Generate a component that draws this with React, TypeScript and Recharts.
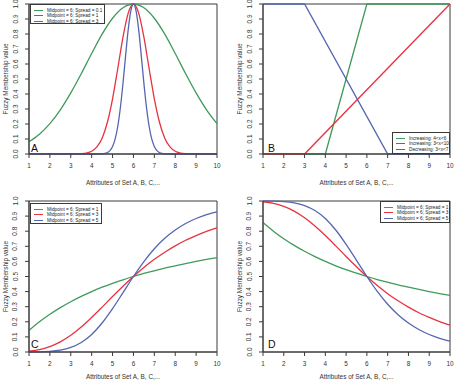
import React from 'react'
import { LineChart, Line, XAxis, YAxis, ReferenceArea, Legend } from 'recharts'

const FONT = '"Liberation Sans", Arial, sans-serif'
const AXIS = '#3a3a3a'
const GREEN = '#3f9a5c'
const RED = '#e6333f'
const BLUE = '#5566b0'

const xTicks = [1, 2, 3, 4, 5, 6, 7, 8, 9, 10]
const yTicks = [0, 0.1, 0.2, 0.3, 0.4, 0.5, 0.6, 0.7, 0.8, 0.9, 1]

// A: bell shaped curves centred on 6
const aGreenX = [1, 1.5, 2, 2.5, 3, 3.5, 4, 4.5, 5, 5.5, 6, 6.5, 7, 7.5, 8, 8.5, 9, 9.5, 10]
const aGreenY = [0.082, 0.132, 0.202, 0.294, 0.407, 0.535, 0.67, 0.799, 0.905, 0.975, 1, 0.975, 0.905, 0.799, 0.67, 0.535, 0.407, 0.294, 0.202]
const aRedX = [1, 2, 3, 3.25, 3.5, 3.75, 4, 4.25, 4.5, 4.75, 5, 5.25, 5.5, 5.75, 6, 6.25, 6.5, 6.75, 7, 7.25, 7.5, 7.75, 8, 8.25, 8.5, 8.75, 9, 10]
const aRedY = [0, 0, 0.0001, 0.0005, 0.0019, 0.0063, 0.018, 0.047, 0.105, 0.21, 0.368, 0.57, 0.779, 0.939, 1, 0.939, 0.779, 0.57, 0.368, 0.21, 0.105, 0.047, 0.018, 0.0063, 0.0019, 0.0005, 0.0001, 0]
const aBlueX = [1, 4, 4.5, 4.625, 4.75, 4.875, 5, 5.125, 5.25, 5.375, 5.5, 5.625, 5.75, 5.875, 6, 6.125, 6.25, 6.375, 6.5, 6.625, 6.75, 6.875, 7, 7.125, 7.25, 7.375, 7.5, 8, 10]
const aBlueY = [0, 0, 0.0012, 0.0034, 0.0092, 0.0224, 0.0498, 0.1006, 0.185, 0.31, 0.472, 0.656, 0.829, 0.954, 1, 0.954, 0.829, 0.656, 0.472, 0.31, 0.185, 0.1006, 0.0498, 0.0224, 0.0092, 0.0034, 0.0012, 0, 0]

// B: straight ramps
const bGreenX = [1, 4, 6, 10]
const bGreenY = [0, 0, 1, 1]
const bRedX = [1, 3, 10]
const bRedY = [0, 0, 1]
const bBlueX = [1, 3, 7, 10]
const bBlueY = [1, 1, 0, 0]

// C and D: sigmoid curves
const cdX = [1, 1.5, 2, 2.5, 3, 3.5, 4, 4.5, 5, 5.5, 6, 6.5, 7, 7.5, 8, 8.5, 9, 9.5, 10]
const cGreenY = [0.143, 0.2, 0.25, 0.294, 0.333, 0.368, 0.4, 0.429, 0.455, 0.478, 0.5, 0.52, 0.538, 0.556, 0.571, 0.586, 0.6, 0.613, 0.625]
const cRedY = [0.005, 0.015, 0.036, 0.067, 0.111, 0.166, 0.229, 0.297, 0.367, 0.435, 0.5, 0.56, 0.614, 0.661, 0.703, 0.74, 0.771, 0.799, 0.822]
const cBlueY = [0.0001, 0.001, 0.004, 0.012, 0.03, 0.063, 0.116, 0.192, 0.287, 0.393, 0.5, 0.599, 0.684, 0.753, 0.808, 0.851, 0.884, 0.909, 0.928]
const dGreenY = [0.857, 0.8, 0.75, 0.706, 0.667, 0.632, 0.6, 0.571, 0.545, 0.522, 0.5, 0.48, 0.462, 0.444, 0.429, 0.414, 0.4, 0.387, 0.375]
const dRedY = [0.995, 0.985, 0.964, 0.933, 0.889, 0.834, 0.771, 0.703, 0.633, 0.565, 0.5, 0.44, 0.386, 0.339, 0.297, 0.26, 0.229, 0.201, 0.178]
const dBlueY = [1, 0.999, 0.996, 0.988, 0.97, 0.937, 0.884, 0.808, 0.713, 0.607, 0.5, 0.401, 0.316, 0.247, 0.192, 0.149, 0.116, 0.091, 0.072]

const aLabels = ['Midpoint = 6; Spread = 0.1', 'Midpoint = 6; Spread = 1', 'Midpoint = 6; Spread = 3']
const bLabels = ['Increasing: 4<x<6', 'Increasing: 3<x<10', 'Decreasing: 3<x<7']
const cdLabels = ['Midpoint = 6; Spread = 1', 'Midpoint = 6; Spread = 3', 'Midpoint = 6; Spread = 5']

const zip = (xs: number[], ys: number[]) => xs.map((x, i) => ({ x, y: ys[i] }))

type Series = { name: string; color: string; xs: number[]; ys: number[]; curve: 'monotone' | 'linear' }

const YTick = (props: any) => {
  const { x, y, payload } = props
  const cx = x - 10
  return (
    <text x={cx} y={y} transform={`rotate(-90 ${cx} ${y})`} textAnchor="middle" dominantBaseline="central" fontSize={6.4} fill="#333" fontFamily={FONT}>
      {Number(payload.value).toFixed(1)}
    </text>
  )
}

const YTitle = (props: any) => {
  const vb = props.viewBox ?? { x: 0, y: 0, width: 0, height: 0 }
  const cx = vb.x + vb.width - 24
  const cy = vb.y + vb.height / 2
  return (
    <text x={cx} y={cy} transform={`rotate(-90 ${cx} ${cy})`} textAnchor="middle" dominantBaseline="central" fontSize={6.4} fill="#333" fontFamily={FONT}>
      Fuzzy Membership value
    </text>
  )
}

function LegendBox({ items, width, height }: { items: Series[]; width: number; height: number }) {
  return (
    <div style={{ width, height, boxSizing: 'border-box', border: `1px solid ${AXIS}`, background: '#fff', padding: '2.5px 0 0 3px', fontFamily: FONT, fontSize: 4.7, color: '#222' }}>
      {items.map((it) => (
        <div key={it.name} style={{ display: 'flex', alignItems: 'center', height: 5.5 }}>
          <span style={{ display: 'inline-block', width: 9, height: 0, borderTop: `1.3px solid ${it.color}`, marginRight: 4 }} />
          <span style={{ whiteSpace: 'nowrap', lineHeight: '5.5px' }}>{it.name}</span>
        </div>
      ))}
    </div>
  )
}

type PanelProps = {
  left: number
  top: number
  axisW: number
  padTop: number
  padRight: number
  axisH: number
  titleOffset: number
  letter: string
  letterTop: number
  series: Series[]
  legend: { left: number; top: number; width: number; height: number }
}

function Panel(p: PanelProps) {
  return (
    <div style={{ position: 'absolute', left: p.left, top: p.top, width: 237, height: 191 }}>
      <LineChart width={237} height={191} margin={{ top: p.padTop, right: p.padRight, bottom: 0, left: 0 }}>
        <ReferenceArea x1={1} x2={10} y1={0} y2={1} fill="none" stroke={AXIS} strokeWidth={1} />
        <XAxis
          type="number"
          dataKey="x"
          domain={[1, 10]}
          ticks={xTicks}
          interval={0}
          height={p.axisH}
          tickSize={4}
          tickMargin={5}
          stroke={AXIS}
          tick={{ fontSize: 6.4, fill: '#333', fontFamily: FONT }}
          label={{ value: 'Attributes of Set A, B, C,...', position: 'insideBottom', offset: p.titleOffset, fontSize: 6.4, fill: '#333', fontFamily: FONT }}
        />
        <YAxis
          type="number"
          domain={[0, 1]}
          ticks={yTicks}
          interval={0}
          width={p.axisW}
          tickSize={4}
          tickMargin={0}
          stroke={AXIS}
          tick={YTick}
          label={YTitle}
        />
        {p.series.map((s) => (
          <Line
            key={s.name}
            name={s.name}
            data={zip(s.xs, s.ys)}
            dataKey="y"
            type={s.curve}
            stroke={s.color}
            strokeWidth={1.3}
            dot={false}
            isAnimationActive={false}
          />
        ))}
        <Legend
          layout="vertical"
          align="center"
          verticalAlign="middle"
          wrapperStyle={{ left: p.legend.left, top: p.legend.top, width: p.legend.width, height: p.legend.height }}
          content={() => <LegendBox items={p.series} width={p.legend.width} height={p.legend.height} />}
        />
      </LineChart>
      <div style={{ position: 'absolute', left: 31, top: p.letterTop, fontFamily: FONT, fontSize: 10.5, lineHeight: '10px', color: '#111' }}>
        {p.letter}
      </div>
    </div>
  )
}

export default function App() {
  const seriesA: Series[] = [
    { name: aLabels[0], color: GREEN, xs: aGreenX, ys: aGreenY, curve: 'monotone' },
    { name: aLabels[1], color: RED, xs: aRedX, ys: aRedY, curve: 'monotone' },
    { name: aLabels[2], color: BLUE, xs: aBlueX, ys: aBlueY, curve: 'monotone' },
  ]
  const seriesB: Series[] = [
    { name: bLabels[0], color: GREEN, xs: bGreenX, ys: bGreenY, curve: 'linear' },
    { name: bLabels[1], color: RED, xs: bRedX, ys: bRedY, curve: 'linear' },
    { name: bLabels[2], color: BLUE, xs: bBlueX, ys: bBlueY, curve: 'linear' },
  ]
  const seriesC: Series[] = [
    { name: cdLabels[0], color: GREEN, xs: cdX, ys: cGreenY, curve: 'monotone' },
    { name: cdLabels[1], color: RED, xs: cdX, ys: cRedY, curve: 'monotone' },
    { name: cdLabels[2], color: BLUE, xs: cdX, ys: cBlueY, curve: 'monotone' },
  ]
  const seriesD: Series[] = [
    { name: cdLabels[0], color: GREEN, xs: cdX, ys: dGreenY, curve: 'monotone' },
    { name: cdLabels[1], color: RED, xs: cdX, ys: dRedY, curve: 'monotone' },
    { name: cdLabels[2], color: BLUE, xs: cdX, ys: dBlueY, curve: 'monotone' },
  ]

  return (
    <div style={{ position: 'absolute', left: 0, top: 0, width: 474, height: 382, background: '#fff', fontFamily: FONT }}>
      <Panel left={0} top={0} axisW={29} padTop={4} padRight={20} axisH={37} titleOffset={6} letter="A" letterTop={142.5} series={seriesA} legend={{ left: 30, top: 4, width: 75, height: 20 }} />
      <Panel left={237} top={0} axisW={26} padTop={4} padRight={24} axisH={37} titleOffset={6} letter="B" letterTop={142.5} series={seriesB} legend={{ left: 155, top: 132, width: 58, height: 22 }} />
      <Panel left={0} top={191} axisW={29} padTop={10} padRight={20} axisH={30} titleOffset={3} letter="C" letterTop={147.5} series={seriesC} legend={{ left: 30, top: 12, width: 72, height: 21 }} />
      <Panel left={237} top={191} axisW={26} padTop={10} padRight={24} axisH={30} titleOffset={3} letter="D" letterTop={147.5} series={seriesD} legend={{ left: 143, top: 10, width: 70, height: 22 }} />
    </div>
  )
}
